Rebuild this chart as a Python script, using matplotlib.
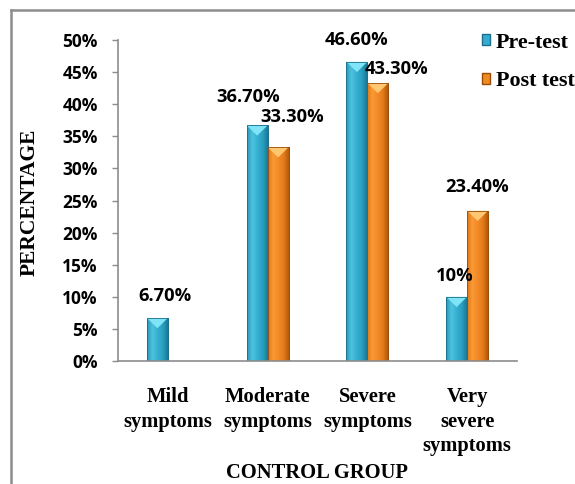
import matplotlib
matplotlib.use("Agg")
import matplotlib.pyplot as plt
import numpy as np
from matplotlib.colors import LinearSegmentedColormap
from matplotlib.patches import Polygon, Rectangle
from matplotlib.lines import Line2D

categories = ["Mild\nsymptoms", "Moderate\nsymptoms", "Severe\nsymptoms", "Very\nsevere\nsymptoms"]
pre_test = [0.067, 0.367, 0.466, 0.10]
post_test = [None, 0.333, 0.433, 0.234]
pre_labels = ["6.70%", "36.70%", "46.60%", "10%"]
post_labels = [None, "33.30%", "43.30%", "23.40%"]
yticks = [0, 0.05, 0.10, 0.15, 0.20, 0.25, 0.30, 0.35, 0.40, 0.45, 0.50]
ytick_labels = ["0%", "5%", "10%", "15%", "20%", "25%", "30%", "35%", "40%", "45%", "50%"]

# label centre offsets in pixels (dx, dy) from bar top
pre_offsets = [(8, 22), (-9, 28), (0, 22), (-2, 21)]
post_offsets = [None, (14, 30), (19, 14), (0, 24)]

W, H = 575, 484
fig = plt.figure(figsize=(W / 100, H / 100), dpi=100)
ax = fig.add_axes([118 / W, (H - 361) / H, (517 - 118) / W, (361 - 40) / H])

pre_cmap = LinearSegmentedColormap.from_list("pre", ["#2a95b6", "#4cc3df", "#37b0d1", "#2aa0c2", "#1a7a98"])
post_cmap = LinearSegmentedColormap.from_list("post", ["#e07818", "#fa9a36", "#f38a26", "#e67d1c", "#b45a0c"])
pre_cap = "#7fe4f7"
post_cap = "#ffc870"

width = 0.21
x = np.arange(len(categories))
grad = np.linspace(0, 1, 64).reshape(1, -1)


def draw_bars(xs, vals, cmap, cap, edge):
    for xi, v in zip(xs, vals):
        if v is None:
            continue
        bars = ax.bar(xi, v, width=width, color=cmap(0.5), edgecolor=edge, linewidth=0.6, zorder=2)
        rect = bars[0]
        im = ax.imshow(grad, extent=[xi - width / 2, xi + width / 2, 0, v], aspect="auto",
                       cmap=cmap, zorder=2.1, interpolation="bilinear")
        im.set_clip_path(rect)
        d = 0.016
        tri = Polygon([[xi - width / 2, v], [xi + width / 2, v], [xi, v - d]], closed=True,
                      facecolor=cap, edgecolor="none", zorder=2.2)
        ax.add_patch(tri)
        ax.bar(xi, v, width=width, facecolor="none", edgecolor=edge, linewidth=0.6, zorder=2.3)


draw_bars(x - width / 2, pre_test, pre_cmap, pre_cap, "#1b6f8a")
draw_bars(x + width / 2, post_test, post_cmap, post_cap, "#9a4d0a")

label_font = dict(family="Open Sans", fontweight="bold", fontsize=13.2, color="black")
for xi, v, lab, off in zip(x - width / 2, pre_test, pre_labels, pre_offsets):
    ax.annotate(lab, (xi, v), xytext=off, textcoords="offset pixels",
                ha="center", va="center", **label_font, zorder=5)
for xi, v, lab, off in zip(x + width / 2, post_test, post_labels, post_offsets):
    if v is None:
        continue
    ax.annotate(lab, (xi, v), xytext=off, textcoords="offset pixels",
                ha="center", va="center", **label_font, zorder=5)

ax.set_xlim(-0.5, len(categories) - 0.5)
ax.set_ylim(0, 0.5)
ax.set_yticks(yticks)
ax.set_yticklabels(ytick_labels, fontfamily="Open Sans", fontweight="bold", fontsize=12.5)
ax.set_xticks(x)
ax.set_xticklabels(categories, fontfamily="Liberation Serif", fontweight="bold", fontsize=14.8,
                   linespacing=1.3)
ax.tick_params(axis="x", length=0, pad=19)
ax.tick_params(axis="y", length=4, width=1, color="#8c8c8c", pad=10.5, direction="out")
for s in ["top", "right"]:
    ax.spines[s].set_visible(False)
for s in ["left", "bottom"]:
    ax.spines[s].set_color("#8c8c8c")
    ax.spines[s].set_linewidth(1.2)

fig.text(317.5 / W, 1 - 473 / H, "CONTROL GROUP", ha="center", va="center",
         family="Liberation Serif", fontweight="bold", fontsize=14.8)
fig.text(30 / W, 1 - 202 / H, "PERCENTAGE", ha="center", va="center", rotation=90,
         family="Liberation Serif", fontweight="bold", fontsize=15.5)

handles = [Rectangle((0, 0), 1, 1, facecolor="#33acd0", edgecolor="#1b6f8a"),
           Rectangle((0, 0), 1, 1, facecolor="#f08b22", edgecolor="#9a4d0a")]
fig.legend(handles, ["Pre-test", "Post test"], loc="center left", bbox_to_anchor=(482 / W, 1 - 62 / H),
           frameon=False, handlelength=0.38, handleheight=0.38, handletextpad=0.25,
           labelspacing=0.85, borderpad=0, borderaxespad=0,
           prop=dict(family="Liberation Serif", weight="bold", size=15.8))

# outer frame
fig.add_artist(Line2D([11 / W, 11 / W], [0, 1 - 10 / H], color="#8c8c8c", linewidth=1.8))
fig.add_artist(Line2D([11 / W, 1], [1 - 10 / H, 1 - 10 / H], color="#8c8c8c", linewidth=1.8))

fig.savefig("out.png", dpi=100)
